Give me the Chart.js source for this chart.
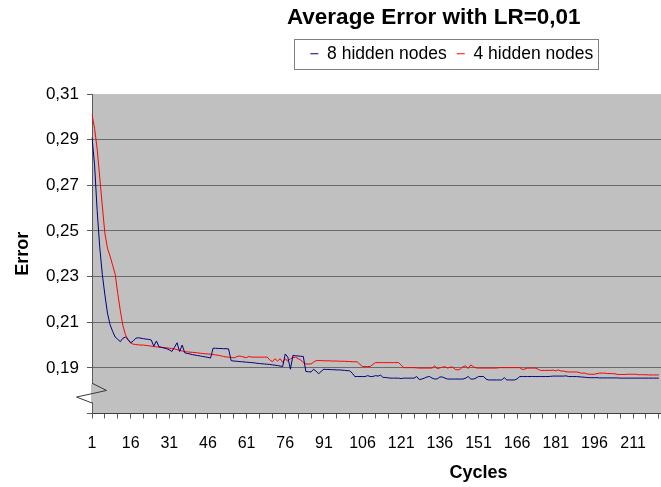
<!DOCTYPE html>
<html><head><meta charset="utf-8">
<script src="https://cdn.jsdelivr.net/npm/chart.js@4.4.1/dist/chart.umd.min.js"></script>
<style>
html,body{margin:0;padding:0;background:#fff;overflow:hidden;width:661px;height:487px}
#wrap{position:absolute;left:0;top:0;width:880px;height:487px}
canvas{display:block}
</style>
</head><body><div id="wrap"><canvas id="c" width="880" height="487"></canvas></div>
<script>
const cycles = Array.from({length: 301}, (_, i) => String(i + 1));

const hidden8 = [
0.291,0.279,0.259,0.243,0.231,0.222,0.214,0.209,0.206,0.2035,
0.2025,0.2015,0.2030,0.2035,0.2025,0.2010,0.2018,0.2030,0.2032,0.2030,
0.2028,0.2026,0.2025,0.2022,0.1995,0.2018,0.1992,0.1990,0.1987,0.1984,
0.1979,0.1972,0.1990,0.2010,0.1972,0.2000,0.1966,0.1963,0.1961,0.1958,
0.1956,0.1954,0.1952,0.1950,0.1948,0.1946,0.1943,0.1986,0.1986,0.1985,
0.1985,0.1984,0.1984,0.1983,0.1932,0.1930,0.1929,0.1928,0.1927,0.1926,
0.1925,0.1924,0.1923,0.1922,0.1920,0.1919,0.1918,0.1917,0.1916,0.1915,
0.1913,0.1912,0.1910,0.1908,0.1906,0.1961,0.1947,0.1894,0.1955,0.1953,
0.1952,0.1951,0.1950,0.1884,0.1883,0.1882,0.1894,0.1885,0.1874,0.1886,
0.1894,0.1893,0.1893,0.1892,0.1892,0.1891,0.1891,0.1890,0.1889,0.1888,
0.1887,0.1877,0.1862,0.1862,0.1862,0.1862,0.1862,0.1866,0.1862,0.1862,
0.1866,0.1864,0.1868,0.1858,0.1858,0.1856,0.1855,0.1855,0.1855,0.1855,
0.1853,0.1855,0.1855,0.1855,0.1855,0.1855,0.1862,0.1849,0.1851,0.1855,
0.1860,0.1862,0.1855,0.1851,0.1852,0.1860,0.1860,0.1855,0.1851,0.1851,
0.1851,0.1851,0.1851,0.1851,0.1851,0.1855,0.1862,0.1851,0.1851,0.1855,
0.1862,0.1862,0.1862,0.1850,0.1847,0.1847,0.1847,0.1847,0.1847,0.1847,
0.1857,0.1847,0.1847,0.1847,0.1847,0.1852,0.1862,0.1862,0.1862,0.1862,
0.1862,0.1862,0.1862,0.1862,0.1862,0.1862,0.1862,0.1862,0.1863,0.1864,
0.1864,0.1864,0.1864,0.1864,0.1865,0.1862,0.1862,0.1862,0.1862,0.1861,
0.1860,0.1859,0.1858,0.1857,0.1857,0.1857,0.1857,0.1856,0.1856,0.1856,
0.1856,0.1856,0.1856,0.1856,0.1856,0.1855,0.1855,0.1855,0.1855,0.1855,
0.1855,0.1855,0.1855,0.1855,0.1855,0.1855,0.1855,0.1855,0.1855,0.1855,0.1855
];

const hidden4 = [
0.301,0.295,0.286,0.2736,0.261,0.249,0.2425,0.239,0.235,0.2310,
0.2226,0.215,0.2085,0.2045,0.2022,0.2009,0.2004,0.2002,0.2001,0.2000,
0.2000,0.1998,0.1997,0.1995,0.1993,0.1992,0.1991,0.1990,0.1989,0.1988,
0.1986,0.1985,0.1983,0.1980,0.1977,0.1974,0.1971,0.1970,0.1969,0.1968,
0.1967,0.1966,0.1964,0.1963,0.1962,0.1961,0.1960,0.1958,0.1957,0.1955,
0.1953,0.1950,0.1948,0.1947,0.1946,0.1944,0.1948,0.1952,0.1950,0.1947,
0.1945,0.1950,0.1947,0.1947,0.1947,0.1947,0.1947,0.1947,0.1947,0.1935,
0.1927,0.1940,0.1930,0.1940,0.1924,0.1939,0.1930,0.1940,0.1945,0.1947,
0.1940,0.1935,0.1923,0.1917,0.1917,0.1917,0.1925,0.1932,0.1932,0.1932,
0.1931,0.1931,0.1931,0.1930,0.1930,0.1930,0.1929,0.1929,0.1929,0.1928,
0.1928,0.1927,0.1927,0.1926,0.1915,0.1906,0.1906,0.1906,0.1906,0.1915,
0.1923,0.1923,0.1923,0.1923,0.1923,0.1923,0.1923,0.1923,0.1923,0.1923,
0.1912,0.1901,0.1901,0.1901,0.1901,0.1901,0.1900,0.1899,0.1899,0.1899,
0.1899,0.1899,0.1899,0.1909,0.1896,0.1900,0.1903,0.1905,0.1899,0.1903,
0.1903,0.1893,0.1891,0.1895,0.1905,0.1909,0.1897,0.1913,0.1905,0.1900,
0.1899,0.1899,0.1899,0.1899,0.1899,0.1899,0.1899,0.1899,0.1901,0.1901,
0.1901,0.1901,0.1901,0.1901,0.1901,0.1901,0.1901,0.1893,0.1895,0.1899,
0.1899,0.1899,0.1899,0.1895,0.1889,0.1889,0.1889,0.1889,0.1889,0.1890,
0.1887,0.1891,0.1886,0.1886,0.1883,0.1882,0.1882,0.1882,0.1882,0.1880,
0.1876,0.1878,0.1874,0.1872,0.1872,0.1872,0.1875,0.1877,0.1877,0.1877,
0.1875,0.1875,0.1875,0.1874,0.1871,0.1871,0.1871,0.1871,0.1872,0.1872,
0.1872,0.1872,0.1870,0.1870,0.1870,0.1870,0.1869,0.1869,0.1869,0.1869,0.1869
];

const yTickValues = [0.17, 0.19, 0.21, 0.23, 0.25, 0.27, 0.29, 0.31];
const seriesLabels = ['8 hidden nodes', '4 hidden nodes'];
const chartTitle = 'Average Error with LR=0,01';

const FONT = "'Liberation Sans', Arial, Helvetica, sans-serif";

const plotBg = {
  id: 'plotBg',
  beforeDraw(chart) {
    const {ctx, chartArea: a} = chart;
    ctx.save();
    ctx.fillStyle = '#C0C0C0';
    ctx.fillRect(a.left, a.top, a.right - a.left, a.bottom - a.top);
    ctx.restore();
  }
};

const legendShift = {
  id: 'legendShift',
  afterLayout(chart) {
    const lg = chart.legend;
    if (lg) { lg.left += 18; lg.right += 18; }
  }
};

const legendBox = {
  id: 'legendBox',
  afterDraw(chart) {
    const lg = chart.legend;
    const hb = lg && lg.legendHitBoxes;
    if (!hb || !hb.length) return;
    let l = Infinity, r = -Infinity, t = Infinity, b = -Infinity;
    hb.forEach(h => {
      l = Math.min(l, h.left); r = Math.max(r, h.left + h.width);
      t = Math.min(t, h.top); b = Math.max(b, h.top + h.height);
    });
    const cy = (t + b) / 2;
    const ctx = chart.ctx;
    ctx.save();
    ctx.strokeStyle = '#7f7f7f';
    ctx.lineWidth = 1;
    const x0 = Math.round(l - 16) + 0.5, x1 = Math.round(r + 5) + 0.5;
    const y0 = Math.round(cy - 15) + 0.5, y1 = Math.round(cy + 15) + 0.5;
    ctx.strokeRect(x0, y0, x1 - x0, y1 - y0);
    ctx.restore();
  }
};

const axisBreak = {
  id: 'axisBreak',
  afterDraw(chart) {
    const ys = chart.scales.y;
    const ctx = chart.ctx;
    const ax = chart.chartArea.left;
    const p = v => ys.getPixelForValue(v);
    const y1 = p(0.1833), y2 = p(0.1801), y3 = p(0.1772), y4 = p(0.1746);
    ctx.save();
    ctx.fillStyle = '#C0C0C0';
    ctx.fillRect(ax - 1, y1 + 1, 3, y4 - y1 - 2);
    ctx.strokeStyle = '#3a3a3a';
    ctx.lineWidth = 1;
    ctx.beginPath();
    ctx.moveTo(ax, y1);
    ctx.lineTo(ax + 14.5, y2);
    ctx.lineTo(ax - 15.5, y3);
    ctx.lineTo(ax, y4);
    ctx.stroke();
    ctx.restore();
  }
};

new Chart(document.getElementById('c'), {
  type: 'line',
  data: {
    labels: cycles,
    datasets: [
      {label: seriesLabels[0], data: hidden8, borderColor: '#000080', backgroundColor: '#000080',
       borderWidth: 1, pointRadius: 0, tension: 0, fill: false},
      {label: seriesLabels[1], data: hidden4, borderColor: '#FF0000', backgroundColor: '#FF0000',
       borderWidth: 1, pointRadius: 0, tension: 0, fill: false}
    ]
  },
  options: {
    responsive: false,
    animation: false,
    devicePixelRatio: 1,
    layout: {padding: {left: 0, right: 12.5, top: 0, bottom: 0}},
    plugins: {
      title: {
        display: true, text: chartTitle, color: '#000',
        font: {family: FONT, size: 22.5, weight: 'bold'},
        padding: {top: 4, bottom: 4}
      },
      subtitle: {
        display: true, text: '', weight: 500,
        font: {family: FONT, size: 10},
        padding: {top: 0, bottom: 9.6}
      },
      legend: {
        display: true, position: 'top',
        labels: {
          color: '#000', font: {family: FONT, size: 17.5},
          usePointStyle: true, pointStyle: 'line', pointStyleWidth: 8, padding: 10
        }
      },
      tooltip: {enabled: false}
    },
    scales: {
      x: {
        type: 'category',
        offset: false,
        grid: {
          drawOnChartArea: false, drawTicks: true, tickLength: 5, color: 'transparent',
          tickColor: c => (c.index % 5 === 0 ? '#5a5a5a' : 'transparent'), tickWidth: 1
        },
        border: {display: true, color: '#404040', width: 1},
        ticks: {
          autoSkip: false, maxRotation: 0, minRotation: 0, padding: 15, color: '#000',
          font: {family: FONT, size: 16},
          callback: (v, i) => (i % 15 === 0 && i < hidden8.length ? cycles[i] : '')
        },
        title: {
          display: true, text: 'Cycles', color: '#000',
          font: {family: FONT, size: 18, weight: 'bold'},
          padding: {top: 0, bottom: 3}
        },
        afterFit: s => { s.height = 73.5; }
      },
      y: {
        type: 'linear', min: 0.17, max: 0.31,
        afterBuildTicks: s => { s.ticks = yTickValues.map(v => ({value: v})); },
        grid: {
          color: c => (c.tick && (Math.abs(c.tick.value - 0.31) < 1e-9 || Math.abs(c.tick.value - 0.17) < 1e-9)) ? 'transparent' : '#6a6a6a',
          tickColor: '#5a5a5a', tickLength: 5, lineWidth: 1
        },
        border: {display: true, color: '#5a5a5a', width: 1},
        ticks: {
          padding: 8, color: '#000', font: {family: FONT, size: 17},
          callback: v => (Math.abs(v - 0.17) < 1e-9 ? '' : v.toFixed(2).replace('.', ','))
        },
        title: {
          display: true, text: 'Error', color: '#000',
          font: {family: FONT, size: 18, weight: 'bold'},
          padding: {top: 12, bottom: 0}
        },
        afterFit: s => { s.width = 92; }
      }
    }
  },
  plugins: [plotBg, legendShift, legendBox, axisBreak]
});
</script>
</body></html>
